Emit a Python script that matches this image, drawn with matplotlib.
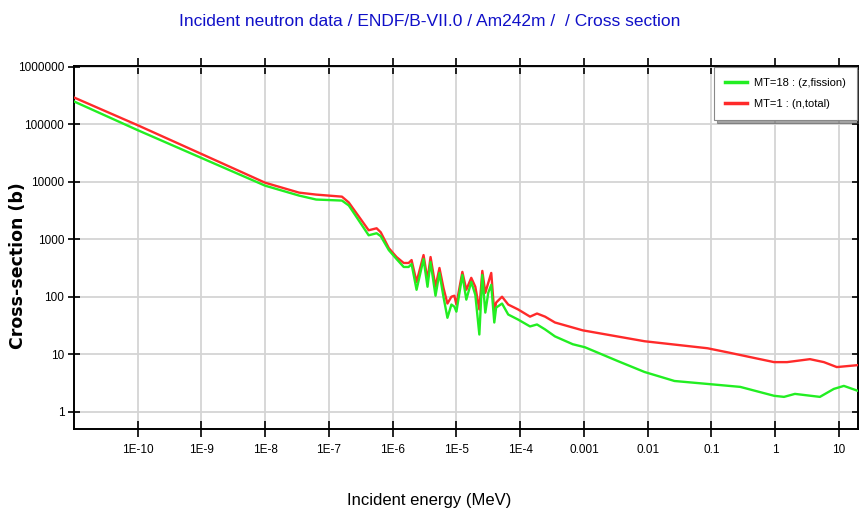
import matplotlib
matplotlib.use("Agg")
import matplotlib.pyplot as plt
from matplotlib.ticker import FixedLocator, FixedFormatter, NullLocator

# cross sections read from the ENDF/B-VII.0 Am242m evaluation (energies in MeV, sigma in barns)
e_total = [1e-11, 1e-10, 1e-9, 1e-8, 3.4e-8, 6.3e-8, 1.6e-7, 2.05e-7, 4.2e-7, 5.6e-7,
           6.5e-7, 8.7e-7, 1.15e-6, 1.49e-6, 1.78e-6, 1.98e-6, 2.37e-6, 3.05e-6, 3.52e-6, 3.93e-6,
           4.7e-6, 5.42e-6, 6.26e-6, 7.23e-6, 8.35e-6, 9.3e-6, 1.0e-5, 1.24e-5, 1.43e-5, 1.71e-5,
           1.98e-5, 2.29e-5, 2.55e-5, 2.84e-5, 3.16e-5, 3.52e-5, 3.93e-5, 4.2e-5, 5.2e-5, 6.5e-5,
           9.3e-5, 1.43e-4, 1.84e-4, 2.46e-4, 3.52e-4, 9.6e-4, 8.97e-3, 0.0866, 0.178, 0.965,
           1.54, 3.52, 5.83, 9.3, 20.0]
sig_total = [2.92e5, 9.6e4, 3.04e4, 9.6e3, 6.46e3, 5.97e3, 5.5e3, 4.35e3, 1.43e3, 1.55e3,
             1.32e3, 700, 490, 386, 386, 434, 181, 530, 196, 490,
             149, 316, 143, 76, 100, 104, 73, 270, 132, 213,
             149, 60, 281, 117, 174, 259, 53, 79, 100, 73,
             60, 45, 51, 45, 35.6, 26, 16.8, 12.7, 10.8, 7.28,
             7.28, 8.2, 7.28, 5.97, 6.46]

e_fission = [1e-11, 1e-10, 1e-9, 1e-8, 3.4e-8, 6.3e-8, 1.6e-7, 2.05e-7, 4.2e-7, 5.6e-7,
             6.5e-7, 8.7e-7, 1.15e-6, 1.49e-6, 1.78e-6, 1.98e-6, 2.37e-6, 3.05e-6, 3.52e-6, 3.93e-6,
             4.7e-6, 5.42e-6, 6.26e-6, 7.23e-6, 8.35e-6, 9.3e-6, 1.0e-5, 1.24e-5, 1.43e-5, 1.71e-5,
             1.98e-5, 2.29e-5, 2.55e-5, 2.84e-5, 3.16e-5, 3.52e-5, 3.93e-5, 4.2e-5, 5.2e-5, 6.5e-5,
             9.3e-5, 1.43e-4, 1.84e-4, 2.46e-4, 3.52e-4, 6.7e-4, 1.04e-3, 3.4e-3, 8.97e-3, 0.0264,
             0.0866, 0.284, 0.965, 1.38, 2.05, 5.05, 8.35, 12.0, 20.0]
sig_fission = [2.49e5, 7.88e4, 2.59e4, 8.53e3, 5.74e3, 4.9e3, 4.7e3, 3.86e3, 1.17e3, 1.27e3,
               1.13e3, 646, 452, 329, 329, 371, 132, 452, 149, 401,
               104, 259, 100, 43, 73, 67, 55, 239, 89, 181,
               108, 22, 239, 53, 117, 161, 35.6, 64.6, 76, 49,
               40, 30.4, 32.9, 27, 20.4, 14.9, 13.2, 7.6, 4.9, 3.42,
               3.04, 2.7, 1.89, 1.81, 2.04, 1.81, 2.49, 2.81, 2.3]

x_ticks = [1e-10, 1e-9, 1e-8, 1e-7, 1e-6, 1e-5, 1e-4, 1e-3, 1e-2, 1e-1, 1, 10]
x_labels = ["1E-10", "1E-9", "1E-8", "1E-7", "1E-6", "1E-5", "1E-4",
            "0.001", "0.01", "0.1", "1", "10"]
y_ticks = [1, 10, 100, 1000, 10000, 100000, 1000000]
y_labels = ["1", "10", "100", "1000", "10000", "100000", "1000000"]

narrow = "Liberation Sans"

fig = plt.figure(figsize=(8.59, 5.15), dpi=100)
ax = fig.add_axes([74 / 859, 1 - 429 / 515, 784 / 859, (429 - 66) / 515])

ax.plot(e_total, sig_total, color="#ff2a2a", lw=1.7, label="MT=1 : (n,total)", zorder=3)
ax.plot(e_fission, sig_fission, color="#22ee22", lw=1.7, label="MT=18 : (z,fission)", zorder=4)

ax.set_xscale("log")
ax.set_yscale("log")
ax.set_xlim(1e-11, 20)
ax.set_ylim(0.5, 1.03e6)

ax.xaxis.set_major_locator(FixedLocator(x_ticks))
ax.xaxis.set_major_formatter(FixedFormatter(x_labels))
ax.yaxis.set_major_locator(FixedLocator(y_ticks))
ax.yaxis.set_major_formatter(FixedFormatter(y_labels))
ax.xaxis.set_minor_locator(NullLocator())
ax.yaxis.set_minor_locator(NullLocator())

ax.grid(True, color="#d4d4d4", lw=1.3)
ax.set_axisbelow(True)
for s in ax.spines.values():
    s.set_linewidth(1.4)
    s.set_color("black")

ax.tick_params(axis="x", which="major", direction="inout", length=12, width=1.2,
               labelsize=8.5, pad=5)
ax.tick_params(axis="y", which="major", direction="inout", length=8, width=1.2,
               labelsize=8.5, pad=3)
ax.tick_params(top=True, right=True)
for lab in ax.get_xticklabels() + ax.get_yticklabels():
    lab.set_family(narrow)

fig.text(0.5, 0.958, "Incident neutron data / ENDF/B-VII.0 / Am242m /  / Cross section",
         ha="center", va="center", color="#1010c8", fontsize=12.5, family=narrow)
fig.text(0.5, 0.029, "Incident energy (MeV)", ha="center", va="center",
         fontsize=12, family=narrow)
fig.text(0.021, 0.485, "Cross-section (b)", rotation=90, ha="center", va="center",
         fontsize=12.5, fontweight="bold", family="DejaVu Sans")

handles, labels = ax.get_legend_handles_labels()
leg = ax.legend(handles[::-1], labels[::-1], loc="upper right",
                bbox_to_anchor=(1.0, 1.0), borderaxespad=0.1,
                fancybox=False, shadow=True, framealpha=1,
                prop={"family": narrow, "size": 8}, handlelength=2.0, borderpad=1.0,
                labelspacing=1.0, handletextpad=0.6)
leg.get_frame().set_edgecolor("#888888")
leg.get_frame().set_linewidth(0.8)
for line in leg.get_lines():
    line.set_linewidth(2.5)

fig.savefig("out.png", dpi=100)
